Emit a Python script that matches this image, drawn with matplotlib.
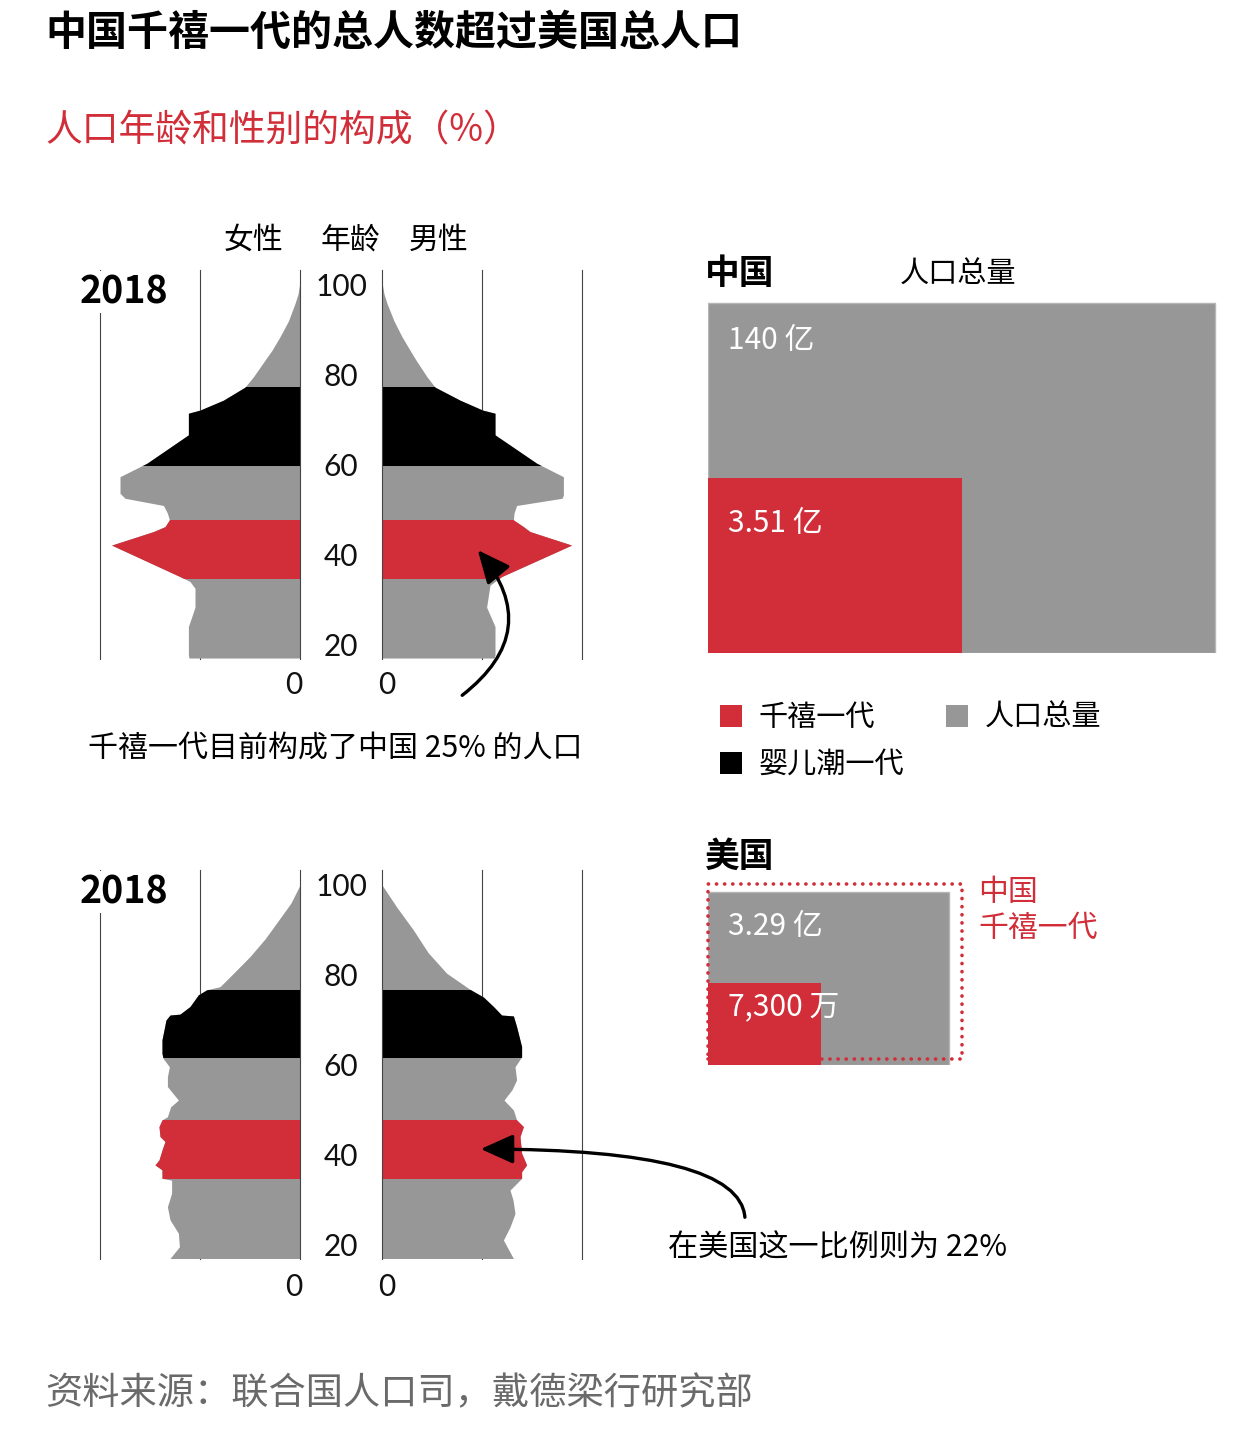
import numpy as np
import matplotlib.pyplot as plt
from matplotlib.patches import Rectangle, Patch, FancyArrowPatch
import matplotlib.transforms as mtransforms

plt.rcParams['font.family'] = ['Noto Sans CJK SC', 'DejaVu Sans']

GRAY = '#979797'
RED = '#d12e39'
BLACK = '#000000'
LINE = '#444444'

# ---- data (percent of population per single year of age, by sex) ----
cn_age_f = [17.1, 17.8, 24.1, 28.4, 32.6, 34.1, 35.2, 42.2, 45.2, 46.3, 47.8, 49.3, 51.0,
            52.6, 53.7, 57.4, 60.4, 66.7, 71.5, 72.2, 74.4, 77.3, 79.6, 83.3, 85.5, 88.5,
            92.0, 95.9, 98.0, 100.7]
cn_f = [0.555, 0.558, 0.558, 0.525, 0.525, 0.55, 0.6, 0.942, 0.733, 0.675, 0.653, 0.663, 0.683,
        0.875, 0.9, 0.9, 0.765, 0.558, 0.558, 0.5, 0.383, 0.275, 0.233, 0.175, 0.14, 0.1,
        0.058, 0.025, 0.01, 0.0]
cn_age_m = [17.1, 17.8, 24.1, 28.4, 33.3, 35.2, 42.2, 45.2, 46.3, 47.8, 49.3, 51.0,
            52.6, 53.3, 57.4, 60.4, 66.7, 71.5, 72.2, 74.4, 77.3, 79.6, 83.3, 85.5, 88.5,
            92.0, 95.9, 98.0, 100.7]
cn_m = [0.56, 0.565, 0.565, 0.523, 0.54, 0.598, 0.948, 0.74, 0.707, 0.657, 0.66, 0.673,
        0.9, 0.907, 0.907, 0.773, 0.565, 0.565, 0.503, 0.39, 0.265, 0.225, 0.17, 0.14, 0.1,
        0.06, 0.025, 0.01, 0.0]

us_age_f = [17.0, 19.6, 22.6, 25.6, 28.5, 31.5, 34.4, 34.8, 36.7, 37.8, 38.9, 41.1, 43.0,
            44.1, 46.3, 47.8, 48.5, 50.7, 52.2, 55.2, 57.4, 59.6, 61.5, 62.6, 65.6, 70.0,
            71.1, 71.3, 73.0, 75.6, 76.7, 77.4, 80.5, 84.1, 88.0, 92.6, 96.0, 100.0]
us_f = [0.65, 0.603, 0.608, 0.65, 0.663, 0.642, 0.642, 0.69, 0.69, 0.725, 0.705, 0.69, 0.675,
        0.7, 0.705, 0.69, 0.663, 0.647, 0.608, 0.663, 0.663, 0.653, 0.685, 0.69, 0.69, 0.67,
        0.65, 0.60, 0.55, 0.508, 0.467, 0.4, 0.33, 0.25, 0.175, 0.1, 0.045, 0.0]
us_age_m = [17.0, 21.1, 24.0, 27.0, 30.0, 32.2, 34.8, 36.3, 37.8, 40.4, 44.1, 46.3, 47.8,
            50.0, 52.2, 54.5, 56.7, 59.6, 61.8, 64.1, 68.5, 70.9, 71.1, 73.0, 75.1, 76.8,
            80.4, 85.0, 90.0, 95.0, 100.0]
us_m = [0.657, 0.607, 0.64, 0.665, 0.655, 0.64, 0.698, 0.698, 0.723, 0.698, 0.69, 0.707, 0.673,
        0.657, 0.61, 0.65, 0.673, 0.665, 0.698, 0.698, 0.673, 0.657, 0.598, 0.557, 0.507, 0.44,
        0.323, 0.23, 0.157, 0.075, 0.0]

# generation age bands
cn_millennial = (34.9, 47.8)
cn_boomer = (60.0, 77.3)
us_millennial = (34.8, 47.8)
us_boomer = (61.8, 76.7)

age_ticks = [20, 40, 60, 80, 100]

# population, 亿
china_total = 14.0
china_mill = 3.51
us_total = 3.29
us_mill = 0.73

W, H = 1242, 1429
fig = plt.figure(figsize=(W / 100, H / 100), dpi=100)


def px_axes(x0, y0, x1, y1):
    return fig.add_axes([x0 / W, 1 - y1 / H, (x1 - x0) / W, (y1 - y0) / H])


AGE_LO, AGE_HI = 16.9, 103.33


def side(ax, ages, widths, bands, left):
    ax.set_xlim((1.0, 0) if left else (0, 1.0))
    ax.set_ylim(AGE_LO, AGE_HI)
    ax.axis('off')
    for g in (0.5, 1.0):
        ax.axvline(g, color=LINE, lw=0.8, zorder=0, clip_on=False)
    ax.axvline(0, color=LINE, lw=0.8, zorder=3, clip_on=False)
    ax.fill_betweenx(ages, 0, widths, color=GRAY, lw=0, zorder=1)
    for (lo, hi), c in bands:
        poly = ax.fill_betweenx(ages, 0, widths, color=c, lw=0, zorder=2)
        clip = Rectangle((0, lo), 1.5, hi - lo, transform=ax.transData)
        poly.set_clip_path(clip)


def pyramid(top, ages_f, wf, ages_m, wm, mill, boom):
    bot = top + (AGE_HI - AGE_LO) * 4.5
    bands = [(mill, RED), (boom, BLACK)]
    axl = px_axes(100, top, 300, bot)
    side(axl, ages_f, wf, bands, True)
    axr = px_axes(382, top, 582, bot)
    side(axr, ages_m, wm, bands, False)
    tr = mtransforms.blended_transform_factory(axl.transAxes, axl.transData)
    for a in age_ticks:
        axl.text(1.205, a - 0.4, str(a), transform=tr, ha='center', va='center',
                 fontsize=21.5, family='Lato', color='#111111')
    return axl, axr


pyramid(270, cn_age_f, cn_f, cn_age_m, cn_m, cn_millennial, cn_boomer)
pyramid(870, us_age_f, us_f, us_age_m, us_m, us_millennial, us_boomer)

# ---- area boxes (area ~ population) ----
S = 112.5  # px per unit


def box_axes(x0, ybot, wpx, hpx):
    ax = px_axes(x0, ybot - hpx, x0 + wpx, ybot)
    ax.set_xlim(0, wpx / S)
    ax.set_ylim(0, hpx / S)
    ax.axis('off')
    return ax


axc = box_axes(708, 653, 530, 400)
a_cn = 1.45
axc.add_patch(Rectangle((0, 0), np.sqrt(china_total * a_cn), np.sqrt(china_total / a_cn),
                        fc=GRAY, ec='#b5b5b5', lw=1))
axc.add_patch(Rectangle((0, 0), np.sqrt(china_mill * a_cn), np.sqrt(china_mill / a_cn),
                        fc=RED, ec='none'))

axu = box_axes(708, 1065, 300, 220)
a_us = 1.39
axu.add_patch(Rectangle((0, 0), np.sqrt(us_total * a_us), np.sqrt(us_total / a_us),
                        fc=GRAY, ec='#b5b5b5', lw=1))
axu.add_patch(Rectangle((0, 0), np.sqrt(us_mill * a_us), np.sqrt(us_mill / a_us),
                        fc=RED, ec='none'))
axu.add_patch(Rectangle((0, 0.05), np.sqrt(china_mill * a_cn), np.sqrt(china_mill / a_cn),
                        fc='none', ec=RED, lw=2.6, ls=(0, (0.05, 2.2)),
                        capstyle='round', clip_on=False))

# ---- overlay text ----
ax0 = fig.add_axes([0, 0, 1, 1])
ax0.set_xlim(0, W)
ax0.set_ylim(H, 0)
ax0.axis('off')
ax0.set_zorder(10)

ax0.text(45, 33, '中国千禧一代的总人数超过美国总人口', fontsize=29.5, fontweight='bold',
         va='center', ha='left')
ax0.text(45, 131, '人口年龄和性别的构成（%）', fontsize=26.5, color=RED, va='center', ha='left')

ax0.text(254, 240, '女性', fontsize=21.5, ha='center', va='center')
ax0.text(350, 240, '年龄', fontsize=21.5, ha='center', va='center')
ax0.text(439, 240, '男性', fontsize=21.5, ha='center', va='center')

for y in (292, 892):
    ax0.text(80, y, '2018', fontsize=27, fontweight='bold', ha='left', va='center',
             bbox=dict(fc='white', ec='none', pad=1))
for y in (685, 1287):
    ax0.text(294, y, '0', fontsize=21.5, family='Lato', ha='center', va='center', color='#111111')
    ax0.text(387, y, '0', fontsize=21.5, family='Lato', ha='center', va='center', color='#111111')

ax0.text(88, 748, '千禧一代目前构成了中国 25% 的人口', fontsize=21.6, ha='left', va='center')
ax0.text(668, 1248, '在美国这一比例则为 22%', fontsize=21.7, ha='left', va='center')

arr1 = FancyArrowPatch((460, 697), (476, 548), connectionstyle='arc3,rad=0.53',
                       arrowstyle='-|>,head_length=1.0,head_width=0.45', mutation_scale=20,
                       lw=2.4, color='black')
ax0.add_patch(arr1)
arr2 = FancyArrowPatch((745, 1220), (478, 1149), connectionstyle='angle3,angleA=90,angleB=0',
                       arrowstyle='-|>,head_length=1.0,head_width=0.45', mutation_scale=20,
                       lw=2.4, color='black')
ax0.add_patch(arr2)

ax0.text(705, 273, '中国', fontsize=25, fontweight='bold', ha='left', va='center')
ax0.text(900, 275, '人口总量', fontsize=21, ha='left', va='center')
ax0.text(705, 856, '美国', fontsize=25, fontweight='bold', ha='left', va='center')

ax0.text(728, 340, '140 亿', fontsize=21.5, color='white', ha='left', va='center')
ax0.text(728, 523, '3.51 亿', fontsize=21.5, color='white', ha='left', va='center')
ax0.text(728, 926, '3.29 亿', fontsize=21.5, color='white', ha='left', va='center')
ax0.text(728, 1007, '7,300 万', fontsize=21.5, color='white', ha='left', va='center')

ax0.text(978, 892, '中国', fontsize=21.5, color=RED, ha='left', va='center')
ax0.text(978, 928, '千禧一代', fontsize=21.5, color=RED, ha='left', va='center')

handles = [Patch(fc=RED, ec='none'), Patch(fc=BLACK, ec='none'), Patch(fc=GRAY, ec='none')]
labels = ['千禧一代', '婴儿潮一代', '人口总量']
fig.legend(handles, labels, loc='upper left', bbox_to_anchor=(720 / W, 1 - 703 / H),
           ncol=2, frameon=False, fontsize=21, handlelength=0.76, handleheight=0.76,
           handletextpad=0.55, columnspacing=1.45, labelspacing=0.58, borderpad=0,
           borderaxespad=0)

ax0.text(45, 1394, '资料来源：联合国人口司，戴德梁行研究部', fontsize=26.8, color='#6a6a6a',
         ha='left', va='center')

fig.savefig('out.png', dpi=100)
